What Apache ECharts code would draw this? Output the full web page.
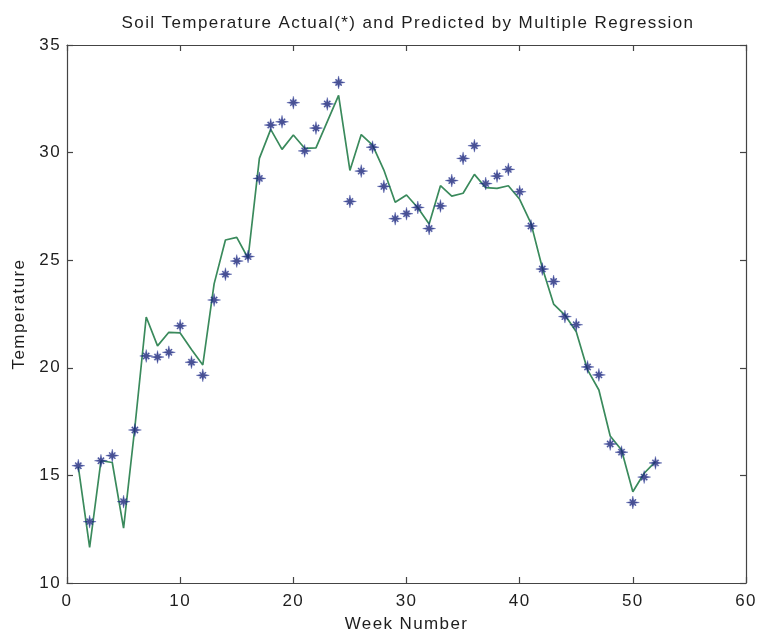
<!DOCTYPE html>
<html>
<head>
<meta charset="utf-8">
<script src="https://cdn.jsdelivr.net/npm/echarts@6/dist/echarts.min.js"></script>
<style>
  html, body { margin: 0; padding: 0; background: #fff; }
  #chart { width: 757px; height: 635px; }
</style>
</head>
<body>
<div id="chart"></div>
<script>
// Week numbers 1..52
const weeks = [1,2,3,4,5,6,7,8,9,10,11,12,13,14,15,16,17,18,19,20,21,22,23,24,25,26,
  27,28,29,30,31,32,33,34,35,36,37,38,39,40,41,42,43,44,45,46,47,48,49,50,51,52];

// Measured soil temperature (asterisks)
const actual = [15.45,12.85,15.68,15.92,13.78,17.11,20.55,20.5,20.72,21.95,20.26,19.65,
  23.15,24.35,24.96,25.17,28.8,31.28,31.43,32.32,30.08,31.14,32.26,33.26,27.73,29.14,
  30.25,28.43,26.93,27.16,27.45,26.47,27.52,28.7,29.73,30.32,28.56,28.91,29.22,28.18,
  26.59,24.59,24.01,22.38,22.0,20.04,19.67,16.46,16.08,13.74,14.92,15.58];

// Values predicted by the multiple regression model (line)
const predicted = [15.4,11.65,15.68,15.6,12.55,17.25,22.36,21.02,21.65,21.62,20.85,20.13,
  23.9,25.94,26.06,25.09,29.73,31.08,30.15,30.82,30.2,30.22,31.44,32.66,29.17,30.84,
  30.35,29.19,27.69,28.03,27.44,26.68,28.46,27.98,28.11,28.99,28.37,28.34,28.46,27.83,
  26.71,24.65,22.96,22.45,21.68,19.9,18.97,16.83,16.18,14.24,15.1,15.64];

// Axis ticks
const xTicks = { min: 0, max: 60, step: 10 };
const yTicks = { min: 10, max: 35, step: 5 };

const font = '"Liberation Sans", Arial, sans-serif';
const ink = '#1e1e1e';
const axisColor = '#444';
const fs = 17;

// Slightly tracked-out lettering for all drawn text
(function () {
  const proto = CanvasRenderingContext2D.prototype;
  const fillText = proto.fillText;
  proto.fillText = function () {
    if ('letterSpacing' in this) this.letterSpacing = '1.4px';
    return fillText.apply(this, arguments);
  };
})();

// Asterisk marker: a four-point sparkle with thin diagonal arms
const starPath = 'path://M0,-10L1.7,-2.6L3.9,-5.3L5.3,-3.9L2.6,-1.7L10,0L2.6,1.7L5.3,3.9L3.9,5.3L1.7,2.6L0,10L-1.7,2.6L-3.9,5.3L-5.3,3.9L-2.6,1.7L-10,0L-2.6,-1.7L-5.3,-3.9L-3.9,-5.3L-1.7,-2.6Z';

const pairs = (ys) => weeks.map((w, i) => [w, ys[i]]);

const baseAxis = {
  axisLine: { show: true, onZero: false, lineStyle: { color: axisColor, width: 1.2 } },
  axisTick: { show: true, inside: true, length: 6, lineStyle: { color: axisColor, width: 1.2 } },
  splitLine: { show: false },
  axisLabel: { color: ink, fontFamily: font, fontSize: fs }
};

const chart = echarts.init(document.getElementById('chart'), null, { renderer: 'canvas' });

chart.setOption({
  backgroundColor: '#fff',
  animation: false,
  title: {
    text: 'Soil Temperature Actual(*) and Predicted by Multiple Regression',
    left: 403, top: 10, textAlign: 'center',
    textStyle: { color: ink, fontFamily: font, fontSize: fs, fontWeight: 'normal' }
  },
  grid: { left: 67, right: 11, top: 45, bottom: 52, outerBoundsMode: 'none', containLabel: false },
  xAxis: [
    Object.assign({}, baseAxis, {
      type: 'value', position: 'bottom',
      min: xTicks.min, max: xTicks.max, interval: xTicks.step,
      name: 'Week Number', nameLocation: 'middle', nameGap: 33,
      nameTextStyle: { color: ink, fontFamily: font, fontSize: fs },
      axisLabel: Object.assign({}, baseAxis.axisLabel, { margin: 10 })
    }),
    Object.assign({}, baseAxis, {
      type: 'value', position: 'top',
      min: xTicks.min, max: xTicks.max, interval: xTicks.step,
      axisLabel: { show: false }
    })
  ],
  yAxis: [
    Object.assign({}, baseAxis, {
      type: 'value', position: 'left',
      min: yTicks.min, max: yTicks.max, interval: yTicks.step,
      name: 'Temperature', nameLocation: 'middle', nameGap: 39,
      nameTextStyle: { color: ink, fontFamily: font, fontSize: fs },
      axisLabel: Object.assign({}, baseAxis.axisLabel, { margin: 6 })
    }),
    Object.assign({}, baseAxis, {
      type: 'value', position: 'right',
      min: yTicks.min, max: yTicks.max, interval: yTicks.step,
      axisLabel: { show: false }
    })
  ],
  series: [
    {
      name: 'Predicted', type: 'line', data: pairs(predicted),
      showSymbol: false, symbol: 'none',
      lineStyle: { color: '#3a8a5c', width: 1.7 },
      z: 2
    },
    {
      name: 'Actual', type: 'scatter', data: pairs(actual),
      symbol: starPath, symbolSize: 13,
      itemStyle: { color: '#1b2578', borderColor: '#2a3a9a', borderWidth: 0.4 },
      z: 3
    }
  ]
});
</script>
</body>
</html>
